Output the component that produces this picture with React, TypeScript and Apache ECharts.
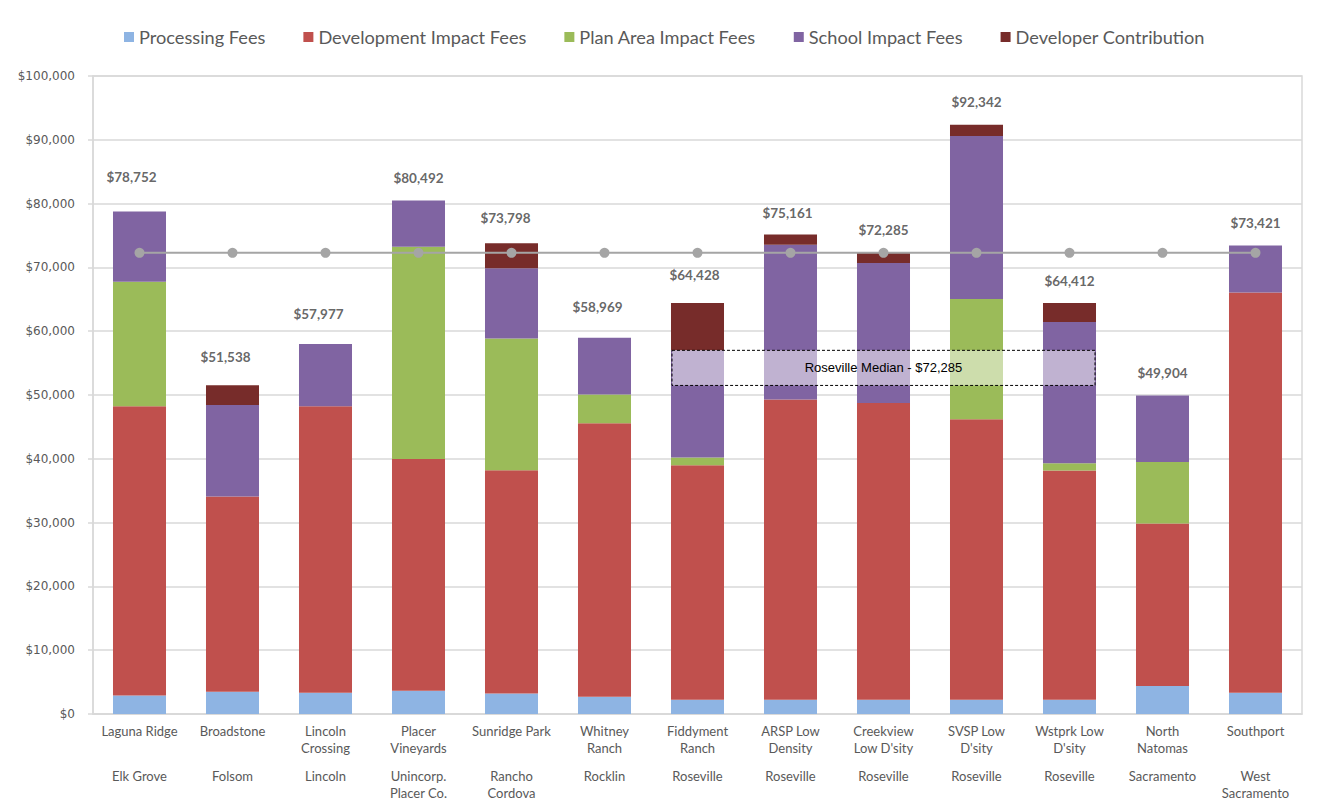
import React, { useEffect, useRef } from "react";
import * as echarts from "echarts";

const categories = [
  "Laguna Ridge",
  "Broadstone",
  "Lincoln\nCrossing",
  "Placer\nVineyards",
  "Sunridge Park",
  "Whitney\nRanch",
  "Fiddyment\nRanch",
  "ARSP Low\nDensity",
  "Creekview\nLow D'sity",
  "SVSP Low\nD'sity",
  "Wstprk Low\nD'sity",
  "North\nNatomas",
  "Southport",
];
const cities = [
  "Elk Grove",
  "Folsom",
  "Lincoln",
  "Unincorp.\nPlacer Co.",
  "Rancho\nCordova",
  "Rocklin",
  "Roseville",
  "Roseville",
  "Roseville",
  "Roseville",
  "Roseville",
  "Sacramento",
  "West\nSacramento",
];

const seriesNames = [
  "Processing Fees",
  "Development Impact Fees",
  "Plan Area Impact Fees",
  "School Impact Fees",
  "Developer Contribution",
];
const processingFees = [2900, 3500, 3350, 3650, 3200, 2700, 2250, 2250, 2250, 2250, 2250, 4400, 3350];
const developmentImpactFees = [45330, 30590, 44880, 36300, 35000, 42880, 36750, 47050, 46500, 43950, 35900, 25450, 62700];
const planAreaImpactFees = [19510, 0, 0, 33300, 20650, 4480, 1200, 0, 0, 18850, 1150, 9650, 0];
const schoolImpactFees = [11012, 14330, 9747, 7242, 11000, 8909, 16800, 24250, 21950, 25550, 22150, 10404, 7371];
const developerContribution = [0, 3118, 0, 0, 3948, 0, 7428, 1611, 1585, 1742, 2962, 0, 0];
const totals = [78752, 51538, 57977, 80492, 73798, 58969, 64428, 75161, 72285, 92342, 64412, 49904, 73421];
const medianLine = [72285, 72285, 72285, 72285, 72285, 72285, 72285, 72285, 72285, 72285, 72285, 72285, 72285];
const medianText = "Roseville Median - $72,285";
const medianBoxRange = [51500, 57000];
const medianBoxFrom = 6;
const medianBoxTo = 10;

// style: label lift (px) and horizontal nudge for the total labels
const labelLift = [27, 21, 23, 15, 18, 23, 20, 14, 15, 15, 15, 15, 15];
const labelNudge = [-8, -7, -7, 0, -6, -7, -3, -3, 0, 0, 0, 0, 0];

const colors = ["#8EB4E3", "#C0504D", "#9BBB59", "#8064A2", "#772C2A"];
const seriesValues = [
  processingFees,
  developmentImpactFees,
  planAreaImpactFees,
  schoolImpactFees,
  developerContribution,
];

const money = (v: number) => "$" + Math.round(v).toLocaleString("en-US");

export default function App() {
  const ref = useRef<HTMLDivElement>(null);
  useEffect(() => {
    if (!ref.current) return;
    const chart = echarts.init(ref.current, null, { renderer: "svg" });
    const barSeries = seriesNames.map((name, i) => ({
      name,
      type: "bar",
      stack: "fees",
      barWidth: "57%",
      itemStyle: { color: colors[i] },
      data: seriesValues[i],
      z: 2,
    }));
    chart.setOption({
      animation: false,
      backgroundColor: "#ffffff",
      textStyle: { fontFamily: "Lato" },
      legend: {
        data: seriesNames,
        top: 23,
        left: 119,
        icon: "rect",
        itemWidth: 10,
        itemHeight: 10,
        itemGap: 38,
        textStyle: { fontFamily: "Lato", fontSize: 18.2, color: "#595959" },
      },
      grid: {
        left: 93,
        right: 23,
        top: 76,
        bottom: 92,
        show: true,
        borderColor: "#D9D9D9",
        borderWidth: 1.5,
      },
      xAxis: {
        type: "category",
        data: categories,
        axisLine: { lineStyle: { color: "#D9D9D9", width: 1.5 } },
        axisTick: { show: false },
        axisLabel: {
          interval: 0,
          margin: 8,
          formatter: (value: string, idx: number) => {
            const n = value.split("\n");
            const c = cities[idx].split("\n");
            return [
              `{n|${n[0]}}`,
              `{n|${n[1] || " "}}`,
              `{g| }`,
              `{n|${c[0]}}`,
              `{n|${c[1] || " "}}`,
            ].join("\n");
          },
          rich: {
            n: { fontFamily: "Lato", fontSize: 13, lineHeight: 17, color: "#595959" },
            g: { fontSize: 8, lineHeight: 11 },
          },
        },
      },
      yAxis: {
        type: "value",
        min: 0,
        max: 100000,
        interval: 10000,
        axisLine: { show: true, lineStyle: { color: "#D9D9D9", width: 1.5 } },
        axisTick: { show: true, length: 5, lineStyle: { color: "#D9D9D9", width: 1.5 } },
        splitLine: { lineStyle: { color: "#D9D9D9", width: 1.5 } },
        axisLabel: {
          margin: 18,
          formatter: (v: number) => money(v),
          fontFamily: "DejaVu Sans",
          fontSize: 12,
          color: "#595959",
        },
      },
      series: [
        ...barSeries,
        {
          name: "Roseville Median",
          type: "line",
          data: medianLine,
          symbol: "circle",
          symbolSize: 10,
          lineStyle: { color: "#A5A5A5", width: 2 },
          itemStyle: { color: "#A5A5A5" },
          z: 5,
        },
        {
          name: "Total",
          type: "scatter",
          data: totals.map((v, i) => ({
            value: v,
            label: { distance: labelLift[i], offset: [labelNudge[i], 0] },
          })),
          symbolSize: 1,
          itemStyle: { color: "rgba(0,0,0,0)" },
          label: {
            show: true,
            position: "top",
            formatter: (p: any) => money(p.value),
            fontFamily: "Lato",
            fontWeight: "bold",
            fontSize: 13.5,
            color: "#404040",
          },
          z: 6,
        },
      ],
    });

    const x0 = chart.convertToPixel({ xAxisIndex: 0 }, medianBoxFrom) as number;
    const x1 = chart.convertToPixel({ xAxisIndex: 0 }, medianBoxTo) as number;
    const band =
      (chart.convertToPixel({ xAxisIndex: 0 }, 1) as number) -
      (chart.convertToPixel({ xAxisIndex: 0 }, 0) as number);
    const half = band * 0.285;
    const yTop = chart.convertToPixel({ yAxisIndex: 0 }, medianBoxRange[1]) as number;
    const yBot = chart.convertToPixel({ yAxisIndex: 0 }, medianBoxRange[0]) as number;
    const left = x0 - half + 1;
    const right = x1 + half - 1;
    chart.setOption({
      graphic: [
        {
          type: "rect",
          z: 10,
          shape: { x: left, y: yTop, width: right - left, height: yBot - yTop },
          style: {
            fill: "rgba(255,255,255,0.5)",
            stroke: "#000000",
            lineWidth: 1,
            lineDash: [3, 2],
          },
        },
        {
          type: "text",
          z: 11,
          x: (left + right) / 2,
          y: (yTop + yBot) / 2,
          style: {
            text: medianText,
            fontFamily: "Liberation Sans",
            fontSize: 13,
            fill: "#000000",
            align: "center",
            verticalAlign: "middle",
          },
        },
      ],
    });
    return () => chart.dispose();
  }, []);
  return (
    <div
      ref={ref}
      style={{ position: "fixed", left: 0, top: 0, width: 1325, height: 806, background: "#fff" }}
    />
  );
}
